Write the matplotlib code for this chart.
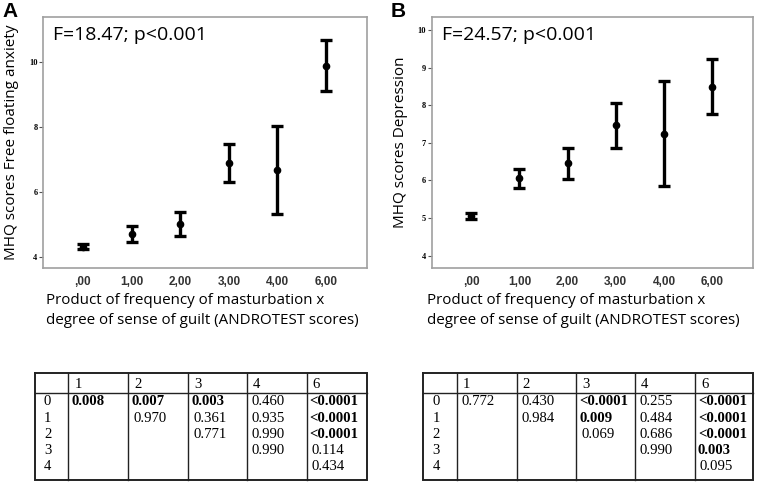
"""Error-bar panels with post-hoc p-value tables (MHQ vs ANDROTEST scores)."""

import matplotlib
matplotlib.use("Agg")
import matplotlib.pyplot as plt

# --- data -------------------------------------------------------------------
categories = [",00", "1,00", "2,00", "3,00", "4,00", "6,00"]

anx_mean = [4.31, 4.70, 5.01, 6.89, 6.67, 9.90]
anx_low = [4.24, 4.44, 4.63, 6.30, 5.32, 9.13]
anx_high = [4.38, 4.95, 5.37, 7.47, 8.04, 10.68]

dep_mean = [5.05, 6.06, 6.46, 7.47, 7.24, 8.48]
dep_low = [4.98, 5.81, 6.03, 6.87, 5.84, 7.76]
dep_high = [5.13, 6.30, 6.87, 8.05, 8.65, 9.22]

anx_stats = "F=18.47; p<0.001"
dep_stats = "F=24.57; p<0.001"

xlabel = "Product of frequency of masturbation x\ndegree of sense of guilt (ANDROTEST scores)"

table_cols = ["", "1", "2", "3", "4", "6"]
table_rows = ["0", "1", "2", "3", "4"]
# cell text, "*" prefix marks a bold (significant) value
anx_table = [
    ["*0.008", "*0.007", "*0.003", "0.460", "*<0.0001"],
    ["", "0.970", "0.361", "0.935", "*<0.0001"],
    ["", "", "0.771", "0.990", "*<0.0001"],
    ["", "", "", "0.990", "0.114"],
    ["", "", "", "", "0.434"],
]
dep_table = [
    ["0.772", "0.430", "*<0.0001", "0.255", "*<0.0001"],
    ["", "0.984", "*0.009", "0.484", "*<0.0001"],
    ["", "", "0.069", "0.686", "*<0.0001"],
    ["", "", "", "0.990", "*0.003"],
    ["", "", "", "", "0.095"],
]

W, H = 759, 482
fig = plt.figure(figsize=(W / 100, H / 100), dpi=100)


def draw_panel(rect, mean, low, high, ylim, yticks, ylabel, stats, xlab_x):
    ax = fig.add_axes(rect)
    x = list(range(len(categories)))
    err = [[m - l for m, l in zip(mean, low)], [h - m for m, h in zip(mean, high)]]
    ax.errorbar(x, mean, yerr=err, fmt="o", color="black", ms=4.5,
                elinewidth=2.4, capsize=4, capthick=2.4)
    ax.set_xlim(-0.82, 5.84)
    ax.set_ylim(*ylim)
    ax.set_xticks(x)
    ax.set_xticklabels(categories, fontfamily="Liberation Sans", fontweight="bold",
                       fontsize=8.5, color="#333333")
    ax.tick_params(axis="x", length=0, pad=6)
    ax.set_yticks(yticks)
    ax.set_yticklabels([str(t) for t in yticks], fontfamily="Liberation Serif",
                       fontweight="bold", fontsize=6)
    ax.tick_params(axis="y", length=3, width=0.8, color="#555555", pad=1)
    for s in ax.spines.values():
        s.set_color("#a0a0a0")
        s.set_linewidth(1.2)
    ax.set_ylabel(ylabel, fontfamily="Open Sans", fontsize=11, labelpad=7)
    ax.set_xlabel(xlabel, fontfamily="Open Sans", fontsize=10.9, ha="left",
                  linespacing=1.5)
    ax.xaxis.set_label_coords(xlab_x, -0.098)
    ax.xaxis.label.set_va("top")
    ax.text(0.031, 0.93, stats, transform=ax.transAxes, fontfamily="Open Sans",
            fontsize=14, va="center", ha="left")
    return ax


draw_panel([43 / W, 1 - 268 / H, 324 / W, 251 / H], anx_mean, anx_low, anx_high,
           (3.65, 11.4), [4, 6, 8, 10], "MHQ scores Free floating anxiety",
           anx_stats, 0.009)
draw_panel([431.7 / W, 1 - 268 / H, 321 / W, 251 / H], dep_mean, dep_low, dep_high,
           (3.67, 10.35), [4, 5, 6, 7, 8, 9, 10], "MHQ scores Depression",
           dep_stats, -0.016)

fig.text(2 / W, 1 - 2 / H, "A", fontsize=15, fontweight="bold", va="top",
         fontfamily="Liberation Sans")
fig.text(391 / W, 1 - 2 / H, "B", fontsize=15, fontweight="bold", va="top",
         fontfamily="Liberation Sans")

# --- tables, drawn in pixel coordinates on an overlay axes -------------------
ov = fig.add_axes([0, 0, 1, 1])
ov.set_xlim(0, W)
ov.set_ylim(H, 0)
ov.axis("off")


def draw_table(col_edges, top, head_bottom, bottom, cells):
    left, right = col_edges[0], col_edges[-1]
    ov.plot([left, right, right, left, left], [top, top, bottom, bottom, top],
            color="#222222", lw=1.4, solid_joinstyle="miter")
    ov.plot([left, right], [head_bottom, head_bottom], color="#222222", lw=1.0)
    for xe in col_edges[1:-1]:
        ov.plot([xe, xe], [top, bottom], color="#222222", lw=1.0)
    font = dict(fontfamily="Liberation Serif", fontsize=10.6, va="center", ha="left")
    for j, c in enumerate(table_cols):
        ov.text(col_edges[j] + 6, (top + head_bottom) / 2 + 1, c, **font)
    row_h = 16.25
    for i, r in enumerate(table_rows):
        yc = head_bottom + 8.6 + row_h * i
        ov.text(col_edges[0] + 9, yc, r, **font)
        for j, val in enumerate(cells[i]):
            bold = val.startswith("*")
            ov.text(col_edges[j + 1] + (3 if bold else 5), yc, val.lstrip("*"),
                    fontweight="bold" if bold else "normal", **font)


draw_table([35, 68.3, 128.3, 188.3, 246.7, 306.7, 367], 373, 393.3, 480, anx_table)
draw_table([423.3, 456.7, 516.7, 576, 635, 695, 752.7], 373, 393.3, 480, dep_table)

fig.savefig("out.png", dpi=100)
